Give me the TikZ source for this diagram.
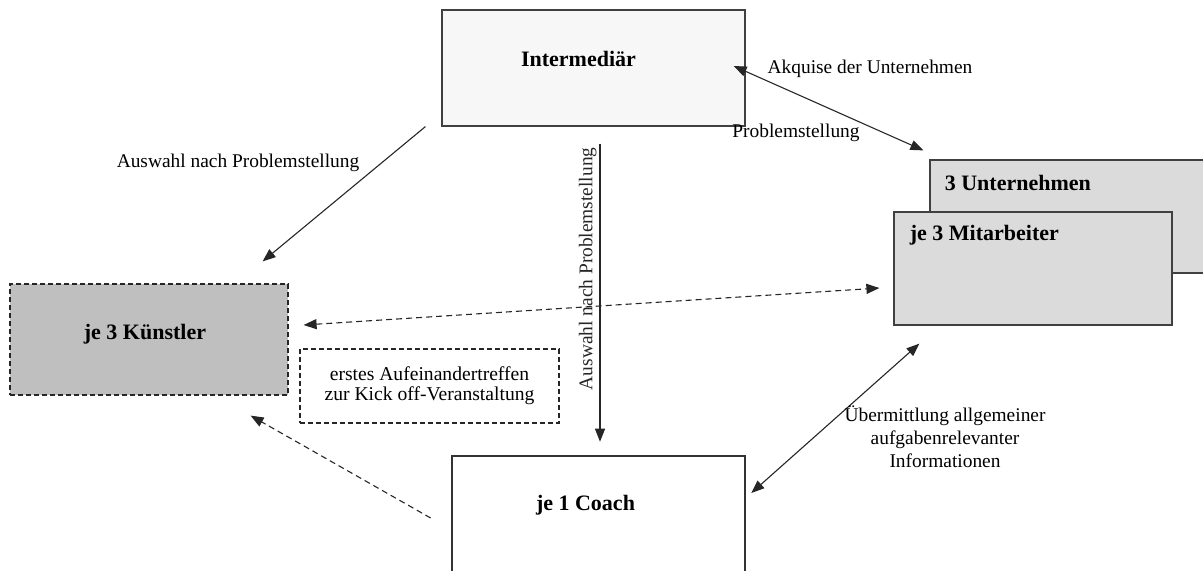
\documentclass[tikz,border=0pt]{standalone}
\usepackage{fontspec}
\setmainfont{Liberation Serif}
\usetikzlibrary{positioning, arrows.meta, calc}

\begin{document}
\begin{tikzpicture}[
  x=0.5pt, y=-0.5pt,
  >={Triangle[length=6.5pt, width=5pt]},
  block/.style={draw=black!75, line width=0.6pt, inner sep=0pt},
  dashblock/.style={block, draw=black!85, dash pattern=on 2.5pt off 1.5pt},
  title/.style={font=\fontsize{11}{13}\selectfont\bfseries, inner sep=0pt},
  lbl/.style={font=\fontsize{9.7}{11.5}\selectfont, align=center, inner sep=0pt},
  arr/.style={->, line width=0.55pt, black!85},
  darr/.style={<->, line width=0.55pt, black!85},
  dasharr/.style={arr, dash pattern=on 3pt off 2pt},
]

\useasboundingbox (0,0) rectangle (1203,570);

% --- boxes ---
\node[block, fill=black!3, minimum width=151.5pt, minimum height=58pt] (inter) at (593.5,68) {};
\node[title] (interlbl) at ($(inter.center)+(-15,-9)$) {Intermediär};

\node[block, fill=black!14, minimum width=142pt, minimum height=56.5pt] (unter) at (1072,216.5) {};
\node[title, anchor=west] (unterlbl) at ($(unter.north west)+(15,24)$) {3 Unternehmen};

\node[block, fill=black!14, minimum width=139pt, minimum height=56.5pt] (mitarb) at (1033,268.5) {};
\node[title, anchor=west] (mitarblbl) at ($(mitarb.north west)+(16,24)$) {je 3 Mitarbeiter};

\node[dashblock, fill=black!25, minimum width=139pt, minimum height=55.5pt] (kuenst) at (149,339.5) {};
\node[title] (kuenstlbl) at ($(kuenst.center)+(-4,-5)$) {je 3 Künstler};

\node[dashblock, fill=white, minimum width=129.5pt, minimum height=37pt,
  font=\fontsize{9.8}{10}\selectfont, align=center] (kick) at (429.5,386)
  {erstes Aufeinandertreffen\\zur Kick off-Veranstaltung};

\node[block, draw=black!80, line width=1.3pt, fill=white, minimum width=146.5pt, minimum height=64pt] (coach) at (598.5,520) {};
\node[title] (coachlbl) at ($(coach.north)+(-13,50)$) {je 1 Coach};

% --- connectors ---
\draw[arr] ($(inter.south west)+(-16,0)$) -- ($(kuenst.north east)+(-26,-22)$);
\draw[arr] ($(inter.south)+(6.5,17)$) -- ($(coach.north)+(1.5,-13)$)
  node[pos=0.42, lbl, rotate=90, anchor=south, inner sep=1.5pt] (auswahlv) {Auswahl nach Problemstellung};
\draw[darr] ($(inter.east)+(-12,-2)$) -- ($(unter.north west)+(-6,-9)$);
\draw[darr, dash pattern=on 3pt off 2pt] ($(kuenst.east)+(15,-14.5)$) -- ($(mitarb.west)+(-14,19.5)$);
\draw[darr] ($(mitarb.south west)+(26,18)$) -- ($(coach.east)+(5,-27)$);
\draw[dasharr] ($(coach.west)+(-20,-2)$) -- ($(kuenst.south east)+(-38,20)$);

% --- labels ---
\node[lbl] (auswahl) at (238,163) {Auswahl nach Problemstellung};
\node[lbl] (akquise) at (870,69) {Akquise der Unternehmen};
\node[lbl] (problem) at (796,133) {Problemstellung};
\node[lbl] (uebermittl) at (945,437) {Übermittlung allgemeiner\\aufgabenrelevanter\\Informationen};

\end{tikzpicture}
\end{document}
